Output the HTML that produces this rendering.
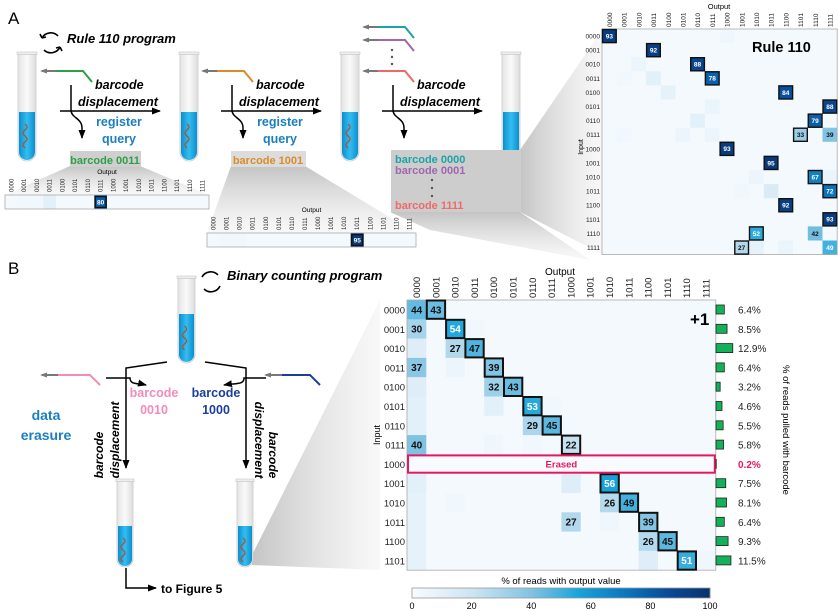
<!DOCTYPE html>
<html><head><meta charset="utf-8"><style>
html,body{margin:0;padding:0;background:#fff}
svg{display:block;font-family:"Liberation Sans",sans-serif}
.bi{font-weight:bold;font-style:italic}
</style></head><body>
<svg id="fig" width="838" height="611" viewBox="0 0 838 611" xmlns="http://www.w3.org/2000/svg">
<defs>
<linearGradient id="liq" x1="0" x2="1"><stop offset="0" stop-color="#0a8fd0"/><stop offset="0.5" stop-color="#35bdf0"/><stop offset="1" stop-color="#0a8fd0"/></linearGradient>
<linearGradient id="glass" x1="0" x2="1"><stop offset="0" stop-color="#e4e4e4"/><stop offset="0.5" stop-color="#fafafa"/><stop offset="1" stop-color="#dcdcdc"/></linearGradient>
<linearGradient id="wedge" x1="0" x2="1"><stop offset="0" stop-color="#c4c4c4"/><stop offset="1" stop-color="#f4f4f4" stop-opacity="0.6"/></linearGradient>
<linearGradient id="wedgeV" x1="0" x2="0" y1="0" y2="1"><stop offset="0" stop-color="#c4c4c4"/><stop offset="1" stop-color="#f2f2f2" stop-opacity="0.5"/></linearGradient>
<marker id="ah" markerUnits="userSpaceOnUse" markerWidth="10" markerHeight="10" refX="8" refY="5" orient="auto"><path d="M0,1.5 L9,5 L0,8.5 z" fill="#000"/></marker>
<marker id="ag" markerUnits="userSpaceOnUse" markerWidth="8" markerHeight="8" refX="5" refY="4" orient="auto"><path d="M0,1.5 L7,4 L0,6.5 z" fill="#777"/></marker>
</defs>

<polygon points="70,166 140,166 209,195 5,195" fill="url(#wedgeV)"/>
<polygon points="231,166 305,166 416,233 207,233" fill="url(#wedgeV)"/>
<polygon points="390,212 520,212 590,260 430,230" fill="url(#wedgeV)"/>
<polygon points="520,150 602,30 602,254 520,212" fill="url(#wedge)"/>
<polygon points="252,555 380,300 380,570 252,565" fill="url(#wedge)"/>

<text x="8" y="24" font-size="17">A</text>
<text x="8" y="274" font-size="17">B</text>

<g id="tubes"></g>

<g fill="none" stroke="#000" stroke-width="1.6">
<path d="M58,36 A10,10 0 0 0 42,38"/><path d="M44,50 A10,10 0 0 0 60,47"/>
<path d="M42,38 l-2,-4 M42,38 l4,-1" /><path d="M60,47 l2,4 M60,47 l-4,1"/>
</g>
<text x="67" y="43" font-size="13" class="bi">Rule 110 program</text>
<g fill="none" stroke="#000" stroke-width="1.6">
<path d="M218,275 A10,10 0 0 0 202,277"/><path d="M204,289 A10,10 0 0 0 220,286"/>
</g>
<text x="227" y="280" font-size="13" class="bi">Binary counting program</text>

<g id="stepsA"></g>

<rect x="70" y="151" width="71" height="16" fill="#cfcfcf"/>
<text x="105" y="164" font-size="11" font-weight="bold" fill="#2e9e48" text-anchor="middle">barcode 0011</text>
<rect x="231" y="151" width="75" height="16" fill="#dcdcdc"/>
<text x="268" y="164" font-size="11" font-weight="bold" fill="#d98c2a" text-anchor="middle">barcode 1001</text>
<rect x="391" y="150" width="130" height="62" fill="#cdcdcd"/>
<text x="395" y="163" font-size="11" font-weight="bold" fill="#1aa3a8">barcode 0000</text>
<text x="395" y="174" font-size="11" font-weight="bold" fill="#a066b0">barcode 0001</text>
<g fill="#555"><circle cx="432" cy="180" r="1.2"/><circle cx="432" cy="188" r="1.2"/><circle cx="432" cy="196" r="1.2"/></g>
<text x="395" y="209" font-size="11" font-weight="bold" fill="#ee6a6a">barcode 1111</text>

<g id="strips"></g>
<g id="top"></g>
<g id="bot"></g>

<g stroke="#000" stroke-width="1.5" fill="none">
<path d="M167,362 L126,368 L126,468" marker-end="url(#ah)"/>
<path d="M205,362 L246,368 L246,468" marker-end="url(#ah)"/>
<path d="M106,378 L130,378 C130,385 138,383 146,385" marker-end="url(#ah)"/>
<path d="M266,378 L244,378 C244,385 236,383 224,385" marker-end="url(#ah)"/>
<path d="M126,568 L126,588 L156,588" marker-end="url(#ah)"/>
</g>
<path d="M52,375 L90,375 L100,385" stroke="#f08cbc" stroke-width="2" fill="none"/>
<path d="M58,375 L42,375" stroke="#777" stroke-width="2" marker-end="url(#ag)"/>
<path d="M276,375 L310,375 L320,385" stroke="#1a3e9a" stroke-width="2" fill="none"/>
<path d="M282,375 L266,375" stroke="#777" stroke-width="2" marker-end="url(#ag)"/>
<text x="154" y="397" font-size="12.5" font-weight="bold" fill="#f08cbc" text-anchor="middle">barcode</text>
<text x="154" y="414" font-size="12.5" font-weight="bold" fill="#f08cbc" text-anchor="middle">0010</text>
<text x="216" y="397" font-size="12.5" font-weight="bold" fill="#1a3e9a" text-anchor="middle">barcode</text>
<text x="216" y="414" font-size="12.5" font-weight="bold" fill="#1a3e9a" text-anchor="middle">1000</text>
<text x="46" y="420" font-size="14" font-weight="bold" fill="#1a7fc1" text-anchor="middle">data</text>
<text x="46" y="440" font-size="14" font-weight="bold" fill="#1a7fc1" text-anchor="middle">erasure</text>
<text transform="translate(103,455) rotate(-90)" font-size="12" class="bi" text-anchor="middle">barcode</text>
<text transform="translate(119,440) rotate(-90)" font-size="12" class="bi" text-anchor="middle">displacement</text>
<text transform="translate(255,440) rotate(90)" font-size="12" class="bi" text-anchor="middle">displacement</text>
<text transform="translate(269,455) rotate(90)" font-size="12" class="bi" text-anchor="middle">barcode</text>
<text x="161" y="593" font-size="12" font-weight="bold">to Figure 5</text>
</svg>
<script>
const topLabels=["0000","0001","0010","0011","0100","0101","0110","0111","1000","1001","1010","1011","1100","1101","1110","1111"];
const topMain=[[0,0,93],[1,3,92],[2,6,88],[3,7,78],[4,12,84],[5,15,88],[6,14,79],[7,13,33],[7,15,39],[8,8,93],[9,11,95],[10,14,67],[11,15,72],[12,12,92],[13,15,93],[14,10,52],[14,14,42],[15,9,27],[15,15,49]];
const topBoxed=[1,1,1,1,1,1,1,1,0,1,1,1,1,1,1,1,0,1,0];
const topBg=[[0,8,4],[1,1,2],[2,2,5],[3,1,3],[3,3,10],[4,4,8],[5,7,6],[6,6,10],[7,1,3],[7,5,5],[7,7,5],[10,10,5],[10,15,6],[11,11,14],[11,9,3],[15,10,8],[15,12,6]];
const botRows=["0000","0001","0010","0011","0100","0101","0110","0111","1000","1001","1010","1011","1100","1101"];
const botCols=topLabels;
const botMain=[[0,0,44],[0,1,43],[1,0,30],[1,2,54],[2,2,27],[2,3,47],[3,0,37],[3,4,39],[4,4,32],[4,5,43],[5,6,53],[6,6,29],[6,7,45],[7,0,40],[7,8,22],[9,10,56],[10,10,26],[10,11,49],[11,8,27],[11,12,39],[12,12,26],[12,13,45],[13,14,51]];
const botBoxed=[0,1,0,1,0,1,0,1,0,1,1,0,1,0,1,1,0,1,0,1,0,1,1];
const botBg=[[1,3,3],[2,0,12],[3,2,5],[4,0,12],[5,0,10],[5,4,10],[5,7,3],[6,0,10],[7,4,4],[7,6,3],[9,0,10],[9,8,12],[10,0,8],[10,2,3],[11,0,8],[11,10,4],[12,0,8],[13,0,8],[13,12,12],[13,15,4]];
const barPct=[6.4,8.5,12.9,6.4,3.2,4.6,5.5,5.8,0.2,7.5,8.1,6.4,9.3,11.5];
const cbTicks=[0,20,40,60,80,100];

const NS="http://www.w3.org/2000/svg";
function mk(tag,attrs,parent,text){const e=document.createElementNS(NS,tag);for(const k in attrs)e.setAttribute(k,attrs[k]);if(text!==undefined)e.textContent=text;parent.appendChild(e);return e;}
const stops=[[0,[247,251,255]],[20,[205,228,242]],[40,[127,194,226]],[55,[26,165,219]],[70,[11,121,192]],[85,[10,76,152]],[100,[7,48,107]]];
function col(v){for(let i=1;i<stops.length;i++){if(v<=stops[i][0]){const a=stops[i-1],b=stops[i],t=(v-a[0])/(b[0]-a[0]);return "rgb("+a[1].map((c,j)=>Math.round(c+(b[1][j]-c)*t)).join(",")+")";}}return "rgb(7,48,107)";}

function heat(g,x0,y0,cw,ch,nr,nc,main,boxed,bg,opts){
  const xs=c=>x0+c*cw, ys=r=>y0+r*ch;
  const grid=[];for(let r=0;r<nr;r++){grid.push(new Array(nc).fill(1.5));}
  bg.forEach(d=>grid[d[0]][d[1]]=d[2]);
  main.forEach(d=>grid[d[0]][d[1]]=d[2]);
  for(let r=0;r<nr;r++)for(let c=0;c<nc;c++){
    if(opts.skipRow===r)continue;
    const cell=mk("rect",{x:xs(c),y:ys(r),width:cw+0.3,height:ch+0.3,fill:col(grid[r][c])},g);
    
    
  }
  mk("rect",{x:x0,y:y0,width:cw*nc,height:ch*nr,fill:"none",stroke:"#aaa","stroke-width":0.8},g);
  main.forEach((d,i)=>{
    const [r,c,v]=d;
    if(boxed[i]){const b=mk("rect",{x:xs(c)+0.5,y:ys(r)+0.5,width:cw-1,height:ch-1,fill:"none",stroke:"#111","stroke-width":opts.bw},g);
      
      }
    const t=mk("text",{x:xs(c)+cw/2,y:ys(r)+ch/2+opts.fs*0.36,"font-size":opts.fs,"font-weight":"bold","text-anchor":"middle",fill:v>opts.white?"#fff":"#111"},g,v);
    
    
  });
  return {xs,ys};
}

const gt=document.getElementById("top");
const T=heat(gt,602,29,14.7,14.1,16,16,topMain,topBoxed,topBg,{fs:6.5,bw:1.4,white:45});
topLabels.forEach((l,i)=>{
  const t=mk("text",{transform:`translate(${T.xs(i)+10},27) rotate(-90)`,"font-size":6.5,fill:"#222"},gt,l);
  
  
  const r=mk("text",{x:600,y:T.ys(i)+9.5,"font-size":6.5,"text-anchor":"end",fill:"#222"},gt,l);
  
  
});
mk("text",{x:719,y:9,"font-size":7.5,"text-anchor":"middle"},gt,"Output");
mk("text",{transform:"translate(583,147) rotate(-90)","font-size":7,"text-anchor":"middle"},gt,"Input");
mk("text",{x:752,y:52,"font-size":14.5,"font-weight":"bold"},gt,"Rule 110");

const gs=document.getElementById("strips");
function strip(x0,y0,w,hi,val){
  const cw=w/16;
  for(let c=0;c<16;c++){const v=(c===hi)?val:(c===3&&hi===7?10:(c===1||c===2?3:1.5));
    const s=mk("rect",{x:x0+c*cw,y:y0,width:cw+0.3,height:14,fill:col(v)},gs);
    
    
    mk("text",{transform:`translate(${x0+c*cw+cw/2+2},${y0-3}) rotate(-90)`,"font-size":6,fill:"#222"},gs,topLabels[c]);}
  mk("rect",{x:x0,y:y0,width:w,height:14,fill:"none",stroke:"#aaa","stroke-width":0.8},gs);
  mk("rect",{x:x0+hi*cw+1,y:y0+1.5,width:cw-2,height:11,fill:"none",stroke:"#111","stroke-width":1.4},gs);
  mk("text",{x:x0+hi*cw+cw/2,y:y0+9.5,"font-size":6.5,"font-weight":"bold","text-anchor":"middle",fill:"#fff"},gs,val);
  mk("text",{x:x0+w/2,y:y0-21,"font-size":6.5,"text-anchor":"middle"},gs,"Output");
}
strip(5,195,204,7,80);
strip(207,233,209,11,95);

const gb=document.getElementById("bot");
const B=heat(gb,407,300,19.3,19.3,14,16,botMain,botBoxed,botBg,{fs:10,bw:2,white:50,skipRow:8});
botCols.forEach((l,i)=>{
  const t=mk("text",{transform:`translate(${B.xs(i)+13},298) rotate(-90)`,"font-size":9.5,fill:"#222"},gb,l);
  
  
});
botRows.forEach((l,i)=>{
  const t=mk("text",{x:405,y:B.ys(i)+13.5,"font-size":9.5,"text-anchor":"end",fill:"#222"},gb,l);
  
  
});
mk("text",{x:560,y:275,"font-size":10,"text-anchor":"middle"},gb,"Output");
mk("text",{transform:"translate(380,435) rotate(-90)","font-size":9,"text-anchor":"middle"},gb,"Input");
mk("text",{x:690,y:325,"font-size":17,"font-weight":"bold"},gb,"+1");
mk("rect",{x:B.xs(0)+1,y:B.ys(8)+1,width:19.3*16-2,height:17.3,fill:"#f7fbff",stroke:"#e8175d","stroke-width":2},gb);
mk("text",{x:B.xs(8),y:B.ys(8)+13,"font-size":9.5,"font-weight":"bold","text-anchor":"middle",fill:"#e8175d"},gb,"Erased");
const bx=v=>716+v*1.3;
barPct.forEach((p,i)=>{
  const b=mk("rect",{x:716,y:B.ys(i)+5,width:bx(p)-716,height:9,fill:"#12b15a",stroke:"#222","stroke-width":0.8},gb);
  
  
  const t=mk("text",{x:738,y:B.ys(i)+13.5,"font-size":10,fill:p<1?"#e8175d":"#222","font-weight":p<1?"bold":"normal"},gb,p.toFixed(1)+"%");
  
  
});
mk("text",{transform:"translate(783,430) rotate(90)","font-size":9.5,"text-anchor":"middle"},gb,"% of reads pulled with barcode");
const cx=v=>412+v*2.98;
for(let v=0;v<100;v+=1){mk("rect",{x:cx(v),y:588,width:3.3,height:10,fill:col(v)},gb);}
mk("rect",{x:412,y:588,width:298,height:10,fill:"none",stroke:"#999","stroke-width":0.8},gb);
cbTicks.forEach(v=>{const t=mk("text",{x:cx(v),y:609,"font-size":9,"text-anchor":"middle"},gb,v);
  
  });
mk("text",{x:561,y:584,"font-size":9.5,"text-anchor":"middle"},gb,"% of reads with output value");

const gtb=document.getElementById("tubes");
function tube(x,y,w,h,lt,name,dna){
  const g=mk("g",{},gtb);
  const r=w/2;
  mk("path",{d:`M${x},${y} L${x},${y+h-r} A${r},${r} 0 0 0 ${x+w},${y+h-r} L${x+w},${y} Z`,fill:"url(#glass)",stroke:"#ccc","stroke-width":0.8},g);
  mk("path",{d:`M${x+1},${lt} L${x+1},${y+h-r} A${r-1},${r-1} 0 0 0 ${x+w-1},${y+h-r} L${x+w-1},${lt} Z`,fill:"url(#liq)"},g);
  mk("rect",{x:x-1,y:y-1,width:w+2,height:2.5,fill:"#eee",stroke:"#bbb","stroke-width":0.5},g);
  if(dna)mk("path",{d:`M${x+w/2-2},${lt+12} q4,3 0,6 q-4,3 0,6 q4,3 0,6 q-4,3 0,6`,fill:"none",stroke:"#b5502a","stroke-width":1.2},g);
}
tube(18,53,18,108,112,"tube-a1",1);
tube(180,53,18,108,112,"tube-a2",1);
tube(341,53,18,108,112,"tube-a3",1);
tube(502,53,18,108,112,"tube-a4",0);
tube(178,277,17,86,314,"tube-b-top",1);
tube(117,480,16,87,526,"tube-b-left",1);
tube(237,480,16,87,526,"tube-b-right",1);

const ga=document.getElementById("stepsA");
[[0,"#2e9e48"],[161,"#d98c2a"],[322,null]].forEach(([dx,sc],i)=>{
  const g=mk("g",{},ga);
  mk("path",{d:`M${60+dx},111 L${160+dx},111`,stroke:"#000","stroke-width":1.5,fill:"none","marker-end":"url(#ah)"},g);
  mk("path",{d:`M${71+dx},85 L${71+dx},110 C${71+dx},118 ${82+dx},118 ${82+dx},128 L${82+dx},138`,stroke:"#000","stroke-width":1.5,fill:"none","marker-end":"url(#ah)"},g);
  mk("text",{x:95+dx,y:89,"font-size":12.5,class:"bi"},g,"barcode");
  mk("text",{x:78+dx,y:106,"font-size":12.5,class:"bi"},g,"displacement");
  if(i<2){
    mk("text",{x:119+dx,y:126,"font-size":12.5,"font-weight":"bold",fill:"#1a7fc1","text-anchor":"middle"},g,"register");
    mk("text",{x:119+dx,y:143,"font-size":12.5,"font-weight":"bold",fill:"#1a7fc1","text-anchor":"middle"},g,"query");
    mk("path",{d:`M${53+dx},71 L${83+dx},71 L${92+dx},82`,stroke:sc,"stroke-width":2,fill:"none"},g);
    mk("path",{d:`M${56+dx},71 L${42+dx},71`,stroke:"#777","stroke-width":2,"marker-end":"url(#ag)"},g);
  }else{
    [["#1aa3a8",27],["#a066b0",40],["#ee6a6a",71]].forEach(([c,y])=>{
      mk("path",{d:`M${53+dx},${y} L${83+dx},${y} L${92+dx},${y+11}`,stroke:c,"stroke-width":2,fill:"none"},g);
      mk("path",{d:`M${56+dx},${y} L${42+dx},${y}`,stroke:"#777","stroke-width":2,"marker-end":"url(#ag)"},g);
    });
    [50,57,64].forEach(y=>mk("circle",{cx:70+dx,cy:y,r:1.2,fill:"#555"},g));
  }
});
</script>
</body></html>
